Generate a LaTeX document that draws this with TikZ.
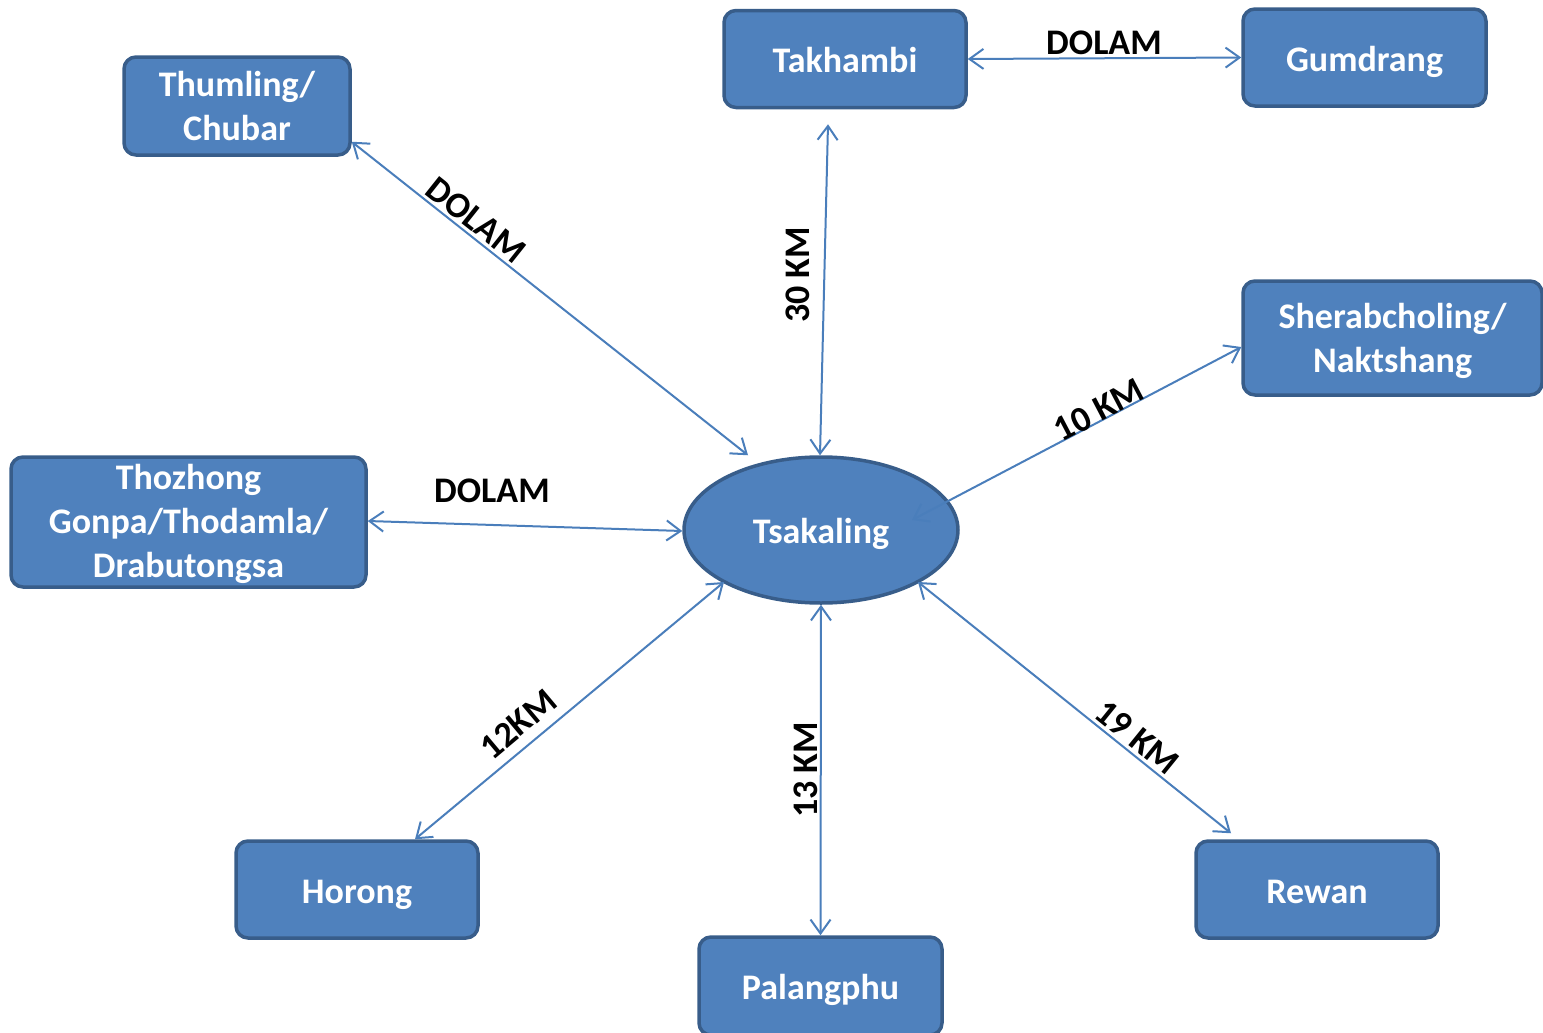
\documentclass[tikz,border=0pt]{standalone}
\usepackage{fontspec}
\setmainfont{Carlito}
\usetikzlibrary{shapes.geometric,arrows.meta,calc}
\definecolor{boxfill}{HTML}{4F81BD}
\definecolor{boxline}{HTML}{385D8A}
\definecolor{linkcol}{HTML}{4A7EBB}
\tikzset{
  place/.style={draw=boxline, fill=boxfill, line width=1.75pt, rounded corners=6pt,
    text=white, font=\fontsize{18}{22}\selectfont\bfseries, align=center, inner sep=0pt},
  oneline/.style={text height=13.9pt, text depth=0pt},
  hub/.style={ellipse, draw=boxline, fill=boxfill, line width=1.75pt, text=white,
    font=\fontsize{18}{22}\selectfont\bfseries, inner sep=0pt,
    text height=13.9pt, text depth=0pt,
    minimum width=137pt, minimum height=73pt},
  conn/.style={draw=linkcol, line width=1pt,
    {Straight Barb[length=7pt,width=10pt]}-{Straight Barb[length=7pt,width=10pt]}},
  lbl/.style={font=\fontsize{18}{22}\selectfont\bfseries, text=black, inner sep=0pt}
}
\begin{document}
\begin{tikzpicture}[x=0.5pt,y=-0.5pt]
\useasboundingbox (0,0) rectangle (1543,1033);
% places
\node[place, minimum width=113pt, minimum height=49pt] (thum) at (237,106) {Thumling/\\Chubar};
\node[place, oneline, minimum width=121pt, minimum height=48.5pt] (takh) at (845,59) {Takhambi};
\node[place, oneline, minimum width=121.5pt, minimum height=48.5pt] (gumd) at (1364.5,57.5) {Gumdrang};
\node[place, minimum width=149.5pt, minimum height=57pt] (sher) at (1392.5,338) {\rule{0pt}{16pt}Sherabcholing/\\Naktshang};
\node[place, minimum width=177.5pt, minimum height=65pt] (thoz) at (188.5,522) {\rule{0pt}{15pt}Thozhong\\Gonpa/Thodamla/\\Drabutongsa};
\node[place, oneline, minimum width=121pt, minimum height=48.5pt] (hor) at (357,889.5) {Horong};
\node[place, oneline, minimum width=121.5pt, minimum height=49pt] (pal) at (820.5,986) {Palangphu};
\node[place, oneline, minimum width=121pt, minimum height=48.5pt] (rew) at (1317,889.5) {Rewan};
\node[hub] (tsak) at (821,530) {Tsakaling};
% connectors
\draw[conn] ($(thum.south east)+(0,-15)$) -- ($(tsak.north)+(-73,0)$);
\draw[conn] ($(takh.south)+(-17,15)$) -- ($(tsak.north)+(-1,0)$);
\draw[conn] (takh.east) -- (gumd.west);
\draw[conn] ($(sher.west)+(0,9)$) -- ($(tsak.center)+(91,-10)$);
\draw[conn] ($(thoz.east)+(0,-1)$) -- ($(tsak.west)+(0,1)$);
\draw[conn] ($(hor.north)+(58,0)$) -- ($(tsak.center)+(-97,52)$);
\draw[conn] (pal.north) -- (tsak.south);
\draw[conn] ($(rew.north)+(-86,-6)$) -- ($(tsak.center)+(97,52)$);
% labels
\node[lbl] (l1) at (1104,43) {DOLAM};
\node[lbl, rotate=-38.5] (l2) at (476,220) {DOLAM};
\node[lbl, rotate=90] (l3) at (798,275) {30 KM};
\node[lbl, rotate=27.6] (l4) at (1099,410) {10 KM};
\node[lbl] (l5) at (492,491) {DOLAM};
\node[lbl, rotate=40] (l6) at (518,724) {12KM};
\node[lbl, rotate=90] (l7) at (806,770) {13 KM};
\node[lbl, rotate=-39] (l8) at (1137,737) {19 KM};
\end{tikzpicture}
\end{document}
